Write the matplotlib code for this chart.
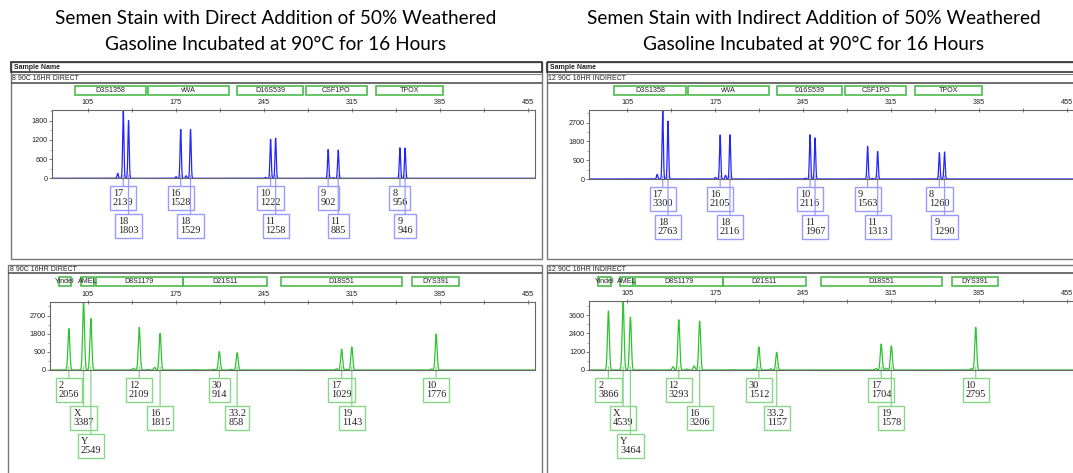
import matplotlib.pyplot as plt
import numpy as np
from matplotlib.patches import Rectangle
from matplotlib.transforms import blended_transform_factory

# ---- chart data ----
title_left = ["Semen Stain with Direct Addition of 50% Weathered",
              "Gasoline Incubated at 90°C for 16 Hours"]
title_right = ["Semen Stain with Indirect Addition of 50% Weathered",
               "Gasoline Incubated at 90°C for 16 Hours"]
sample_left = "8 90C 16HR DIRECT"
sample_right = "12 90C 16HR INDIRECT"

# blue dye panel (bp ranges of the locus boxes)
blue_loci = ["D3S1358", "vWA", "D16S539", "CSF1PO", "TPOX"]
blue_loci_start = [94.5, 153, 224, 278.5, 334]
blue_loci_end = [151.5, 217.5, 276, 327, 387.5]

blue_alleles = ["17", "18", "16", "18", "10", "11", "9", "11", "8", "9"]
blue_sizes = [133.2, 137.4, 178.9, 186.7, 250.4, 254.4, 296.2, 304.2, 353.3, 357.4]
blue_direct = [2139, 1803, 1528, 1529, 1222, 1258, 902, 885, 956, 946]
blue_indirect = [3300, 2763, 2105, 2116, 2116, 1967, 1563, 1313, 1260, 1290]
blue_rows = [1, 2, 1, 2, 1, 2, 1, 2, 1, 2]

# small unlabelled stutter peaks
blue_minor_sizes = [128.8, 175.2, 183.2, 246.4, 300.2]
blue_minor_direct = [155, 50, 80, 30, 20]
blue_minor_indirect = [220, 80, 175, 40, 30]

# green dye panel
green_loci = ["Yindel", "AMEL", "D8S1179", "D21S11", "D18S51", "DYS391"]
green_loci_start = [82, 99.5, 111.4, 180.8, 259, 363.3]
green_loci_end = [92, 109.8, 180.8, 247.4, 355, 400.3]

green_alleles = ["2", "X", "Y", "12", "16", "30", "33.2", "17", "19", "10"]
green_sizes = [90, 101.7, 107.5, 146, 162.6, 209.7, 223.9, 307, 315.1, 382.2]
green_direct = [2056, 3387, 2549, 2109, 1815, 914, 858, 1029, 1143, 1776]
green_indirect = [3866, 4539, 3464, 3293, 3206, 1512, 1157, 1704, 1578, 2795]
green_rows = [1, 2, 3, 1, 2, 1, 2, 1, 2, 1]

green_minor_sizes = [141.4, 152.3, 158.2, 190, 205.4, 219.2, 302.8, 311, 378.4]
green_minor_direct = [85, 20, 130, 15, 30, 30, 60, 40, 50]
green_minor_indirect = [215, 60, 260, 20, 60, 80, 100, 120, 90]

W, H = 1073, 473
PX_PER_BP = 1.257
XMAX = 460.7

fig = plt.figure(figsize=(W / 100, H / 100), dpi=100)
bg = fig.add_axes([0, 0, 1, 1])
bg.set_xlim(0, W)
bg.set_ylim(H, 0)
bg.axis("off")

SANS = "Liberation Sans"
SERIF = "Liberation Serif"
DARK = "#222222"


def box(x0, y0, x1, y1, ec="#555555", lw=1.0):
    bg.add_patch(Rectangle((x0, y0), x1 - x0, y1 - y0, fill=False, ec=ec, lw=lw))


def hline(x0, x1, y, c="#444444", lw=1.0):
    bg.plot([x0, x1], [y, y], color=c, lw=lw, solid_capstyle="butt")


# titles
for i, t in enumerate(title_left):
    bg.text(276, 18 + 27 * i, t, ha="center", va="center", fontsize=13.7,
            family="Lato", color="#000000")
for i, t in enumerate(title_right):
    bg.text(814, 18 + 27 * i, t, ha="center", va="center", fontsize=13.7,
            family="Lato", color="#000000")

# panel frames
for x0, x1, name in [(10.5, 541.5, sample_left), (546.5, 1085, sample_right)]:
    # upper (blue) panel
    box(x0, 62.5, x1, 258.5, ec="#777777")
    box(x0 + 0.5, 62.5, x1, 72.5, ec="#333333", lw=1.2)
    bg.text(x0 + 3.5, 67.8, "Sample Name", fontsize=5, family=SANS,
            weight="bold", va="center", color=DARK)
    hline(x0 + 0.5, x1, 74, c="#888888", lw=0.8)
    bg.text(x0 + 2, 78.6, name, fontsize=5, family=SANS, va="center", color=DARK)
    hline(x0 + 0.5, x1, 82.6, c="#555555", lw=1.2)

for x0, x1, name in [(8, 541.5, sample_left), (546.5, 1085, sample_right)]:
    # lower (green) panel
    box(x0, 264.5, x1, 490, ec="#777777")
    bg.text(x0 + 2, 269.2, name, fontsize=5, family=SANS, va="center", color=DARK)
    hline(x0, x1, 273.4, c="#555555", lw=1.2)


def make_panel(left, top, base, xmin, sizes, heights, minor_sizes, minor_heights,
               ystep, color, sigma, loci, loci_start, loci_end, locus_y,
               alleles, rows, label_color):
    width = (XMAX - xmin) * PX_PER_BP
    ax = fig.add_axes([left / W, 1 - base / H, width / W, (base - top) / H])
    ax.set_facecolor("none")

    # trace built from the peak list
    x = np.linspace(xmin, XMAX, 6000)
    y = np.zeros_like(x)
    for s, h in zip(list(sizes) + list(minor_sizes), list(heights) + list(minor_heights)):
        y += h * np.exp(-0.5 * ((x - s) / sigma) ** 2)
    ax.plot(x, y, color=color, lw=0.9)

    ymax = max(heights)
    ax.set_xlim(xmin, XMAX)
    ax.set_ylim(0, ymax)
    ax.set_yticks(np.arange(0, ymax, ystep))
    ax.set_yticks(np.arange(ystep / 2, ymax, ystep), minor=True)
    ax.set_yticklabels([str(int(v)) for v in np.arange(0, ymax, ystep)])
    ax.xaxis.tick_top()
    ax.set_xticks(np.arange(105, 456, 70))
    ax.set_xticks(np.arange(140, 456, 70), minor=True)
    ax.tick_params(axis="x", which="both", direction="inout", length=3, width=0.6,
                   color="#666666", labelsize=5.2, pad=1.2, labelcolor=DARK)
    ax.tick_params(axis="y", which="major", direction="out", length=2, width=0.6,
                   color="#666666", labelsize=5.2, pad=1, labelcolor=DARK)
    ax.tick_params(axis="y", which="minor", direction="out", length=1.2, width=0.5,
                   color="#888888")
    for lab in ax.get_xticklabels() + ax.get_yticklabels():
        lab.set_family(SANS)
    for sp in ax.spines.values():
        sp.set_color("#666666")
        sp.set_linewidth(0.8)

    tr = blended_transform_factory(ax.transData, bg.transData)

    # locus boxes above the plot
    for name, a, b in zip(loci, loci_start, loci_end):
        bg.add_patch(Rectangle((a, locus_y), b - a, 9.5, transform=tr, fill=False,
                               ec="#4cbb4c", lw=1.2))
        bg.text((a + b) / 2, locus_y + 5, name, transform=tr, ha="center",
                va="center", fontsize=5.1, family=SANS, color=DARK)

    # allele label boxes
    for s, h, al, r in zip(sizes, heights, alleles, rows):
        bg.annotate(f"{al}\n{h}", xy=(s, base - 3), xycoords=tr,
                    xytext=(s, base + 20 + 28 * (r - 1)), textcoords=tr,
                    ha="center", va="center", multialignment="left",
                    fontsize=7.4, family=SERIF, color=DARK, linespacing=1.05,
                    bbox=dict(boxstyle="square,pad=0.28", fc="white",
                              ec=label_color, lw=1.0),
                    arrowprops=dict(arrowstyle="-", color=label_color, lw=0.9,
                                    shrinkA=0, shrinkB=0))
    return ax


BLUE, BLUE_BOX = "#2424ff", "#9a9aff"
GREEN, GREEN_BOX = "#2fc42f", "#86d886"

make_panel(52, 110, 178.3, 76.5, blue_sizes, blue_direct, blue_minor_sizes,
           blue_minor_direct, 600, BLUE, 0.5, blue_loci, blue_loci_start,
           blue_loci_end, 86, blue_alleles, blue_rows, BLUE_BOX)
make_panel(589.3, 110, 179, 74.8, blue_sizes, blue_indirect, blue_minor_sizes,
           blue_minor_indirect, 900, BLUE, 0.5, blue_loci, blue_loci_start,
           blue_loci_end, 86, blue_alleles, blue_rows, BLUE_BOX)
make_panel(50, 301.7, 370, 75, green_sizes, green_direct, green_minor_sizes,
           green_minor_direct, 900, GREEN, 0.75, green_loci, green_loci_start,
           green_loci_end, 276.5, green_alleles, green_rows, GREEN_BOX)
make_panel(589.3, 300.7, 370, 74.8, green_sizes, green_indirect, green_minor_sizes,
           green_minor_indirect, 1200, GREEN, 0.75, green_loci, green_loci_start,
           green_loci_end, 276.5, green_alleles, green_rows, GREEN_BOX)

fig.savefig("out.png", dpi=100)
